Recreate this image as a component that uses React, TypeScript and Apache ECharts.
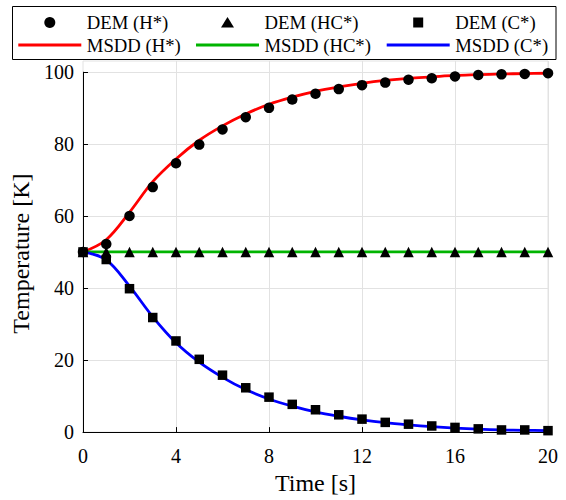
import React, { useEffect, useRef } from "react";
import * as echarts from "echarts";

const times = [0, 1, 2, 3, 4, 5, 6, 7, 8, 9, 10, 11, 12, 13, 14, 15, 16, 17, 18, 19, 20];
const demH = [50, 52.2, 60.0, 68.0, 74.6, 79.8, 84.0, 87.4, 90.0, 92.3, 93.9, 95.2, 96.3, 97.0, 97.8, 98.2, 98.7, 99.1, 99.3, 99.4, 99.6];
const demHC = [50, 50, 50, 50, 50, 50, 50, 50, 50, 50, 50, 50, 50, 50, 50, 50, 50, 50, 50, 50, 50];
const demC = [50, 47.9, 39.8, 31.8, 25.3, 20.2, 15.8, 12.3, 9.7, 7.7, 6.2, 4.8, 3.6, 2.7, 2.2, 1.7, 1.3, 0.9, 0.6, 0.6, 0.4];
const msddH = [50, 53.4, 61.0, 69.5, 75.8, 81.0, 85.0, 88.3, 91.0, 93.0, 94.6, 95.8, 96.8, 97.6, 98.2, 98.6, 99.0, 99.2, 99.4, 99.5, 99.6];
const msddHC = [50, 50, 50, 50, 50, 50, 50, 50, 50, 50, 50, 50, 50, 50, 50, 50, 50, 50, 50, 50, 50];
const msddC = [50, 47.8, 40.5, 32.0, 24.8, 19.4, 15.2, 11.8, 9.2, 7.2, 5.6, 4.4, 3.4, 2.6, 2.0, 1.5, 1.1, 0.8, 0.6, 0.5, 0.4];

const yTicks = [0, 20, 40, 60, 80, 100];
const Y_MAX = 103;
const Y_AXIS_TOP = 100;

const legendColumns = [
  { dem: "DEM (H*)", msdd: "MSDD (H*)", marker: "circle", color: "#ff0000" },
  { dem: "DEM (HC*)", msdd: "MSDD (HC*)", marker: "triangle", color: "#00b400" },
  { dem: "DEM (C*)", msdd: "MSDD (C*)", marker: "square", color: "#0000ff" },
];

const FONT = "Liberation Serif";
const RED = "#ff0000";
const GREEN = "#00b400";
const BLUE = "#0000ff";
const GRID_GREY = "#e2e2e2";

const pairs = (ys: number[]) => times.map((t, i) => [t, ys[i]]);

function buildLegend() {
  const colX = [18.3, 196, 386.7];
  const iconW = 63;
  const row1 = 22.5;
  const row2 = 45;
  const els: any[] = [
    {
      type: "rect",
      shape: { x: 12.5, y: 6.5, width: 543.5, height: 53 },
      style: { fill: "none", stroke: "#000", lineWidth: 1 },
      silent: true,
    },
  ];
  legendColumns.forEach((c, i) => {
    const x0 = colX[i];
    const cx = x0 + iconW / 2;
    if (c.marker === "circle") {
      els.push({ type: "circle", shape: { cx, cy: row1, r: 5.5 }, style: { fill: "#000" }, silent: true });
    } else if (c.marker === "triangle") {
      els.push({
        type: "polygon",
        shape: { points: [[cx - 6.5, row1 + 5], [cx + 6.5, row1 + 5], [cx, row1 - 5.5]] },
        style: { fill: "#000" },
        silent: true,
      });
    } else {
      els.push({ type: "rect", shape: { x: cx - 5, y: row1 - 5, width: 10, height: 10 }, style: { fill: "#000" }, silent: true });
    }
    els.push({
      type: "line",
      shape: { x1: x0, y1: row2, x2: x0 + iconW, y2: row2 },
      style: { stroke: c.color, lineWidth: 3 },
      silent: true,
    });
    const tx = x0 + iconW + 5.5;
    [[c.dem, row1], [c.msdd, row2]].forEach(([t, y]) => {
      els.push({
        type: "text",
        x: tx,
        y: y as number,
        style: {
          text: t as string,
          fontFamily: FONT,
          fontSize: 18.7,
          fill: "#000",
          align: "left",
          verticalAlign: "middle",
        },
        silent: true,
      });
    });
  });
  return els;
}

export default function App() {
  const ref = useRef<HTMLDivElement>(null);
  useEffect(() => {
    if (!ref.current) return;
    document.body.style.margin = "0";
    const chart = echarts.init(ref.current, undefined, { renderer: "svg" });
    const lineSeries = (name: string, data: number[], color: string, extra: any = {}) => ({
      name,
      type: "line",
      data: pairs(data),
      smooth: 0.35,
      showSymbol: false,
      symbol: "none",
      lineStyle: { color, width: 2.8 },
      itemStyle: { color },
      z: 2,
      silent: true,
      ...extra,
    });
    const scatterSeries = (name: string, data: number[], symbol: string, size: number) => ({
      name,
      type: "scatter",
      data: pairs(data),
      symbol,
      symbolSize: size,
      itemStyle: { color: "#000", opacity: 1 },
      z: 3,
      silent: true,
    });
    const tickLabel = { fontFamily: FONT, fontSize: 20, color: "#000" };
    chart.setOption({
      animation: false,
      backgroundColor: "#fff",
      textStyle: { fontFamily: FONT, color: "#000" },
      grid: {
        left: 83,
        right: 18,
        top: 61,
        bottom: 66,
        show: true,
        borderColor: GRID_GREY,
        borderWidth: 1,
        backgroundColor: "transparent",
      },
      graphic: buildLegend(),
      xAxis: {
        type: "value",
        min: 0,
        max: 20,
        interval: 4,
        name: "Time [s]",
        nameLocation: "middle",
        nameGap: 38,
        nameTextStyle: { fontFamily: FONT, fontSize: 24, color: "#000" },
        axisLine: { show: true, lineStyle: { color: "#000", width: 1 } },
        axisTick: { show: true, inside: true, length: 5, lineStyle: { color: "#000" } },
        axisLabel: { ...tickLabel, margin: 14 },
        splitLine: { show: true, showMinLine: false, lineStyle: { color: GRID_GREY, width: 1 } },
      },
      yAxis: {
        type: "value",
        min: 0,
        max: Y_MAX,
        interval: 20,
        name: "Temperature [K]",
        nameLocation: "middle",
        nameGap: 46,
        nameTextStyle: { fontFamily: FONT, fontSize: 24, color: "#000", padding: [0, 14, 0, 0] },
        axisLine: { show: false },
        axisTick: { show: true, inside: true, length: 5, lineStyle: { color: "#000" }, customValues: yTicks },
        axisLabel: {
          ...tickLabel,
          margin: 9,
          showMaxLabel: false,
          formatter: (v: number) => (v > Y_AXIS_TOP ? "" : String(v)),
        },
        splitLine: { show: true, lineStyle: { color: GRID_GREY, width: 1 } },
      },
      series: [
        lineSeries("MSDD (H*)", msddH, RED, {
          markLine: {
            silent: true,
            symbol: ["none", "none"],
            label: { show: false },
            lineStyle: { color: "#000", width: 1, type: "solid" },
            emphasis: { disabled: true },
            data: [[{ coord: [0, 0] }, { coord: [0, Y_AXIS_TOP] }]],
          },
        }),
        lineSeries("MSDD (HC*)", msddHC, GREEN),
        lineSeries("MSDD (C*)", msddC, BLUE),
        scatterSeries("DEM (H*)", demH, "circle", 10.5),
        scatterSeries("DEM (HC*)", demHC, "triangle", 10.5),
        scatterSeries("DEM (C*)", demC, "rect", 9.5),
      ],
    });
    return () => chart.dispose();
  }, []);
  return <div ref={ref} style={{ width: 566, height: 500 }} />;
}
